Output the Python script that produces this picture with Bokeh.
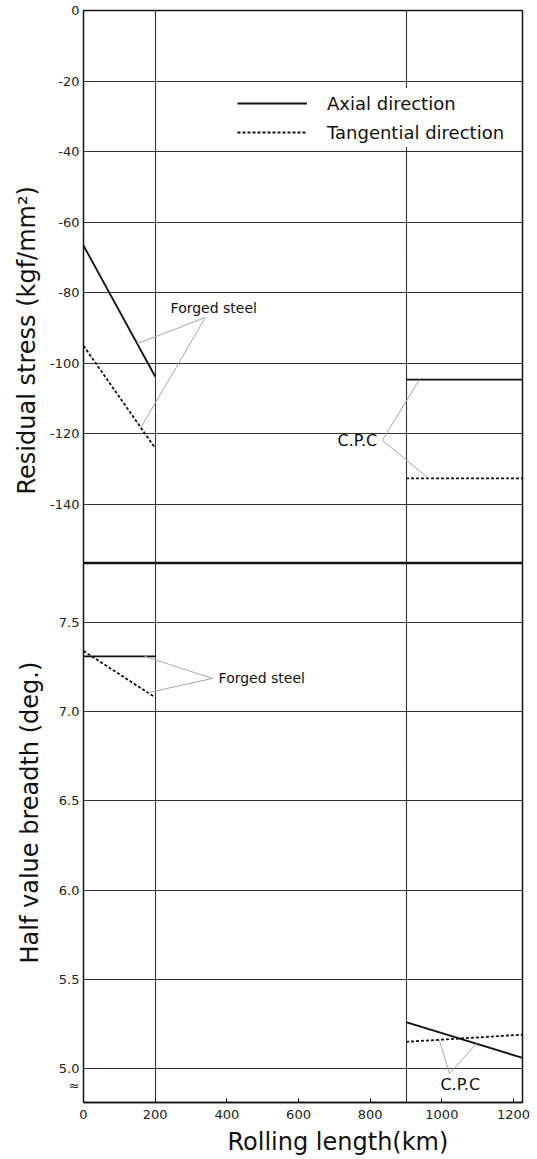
from bokeh.plotting import figure
from bokeh.layouts import column
from bokeh.models import Range1d, FixedTicker, Label, Legend, LegendItem, Title
from bokeh.embed import file_html
from bokeh.resources import INLINE

# ---------------- data ----------------
x_forged = [0, 200]
x_cpc = [900, 1225]

stress_forged_axial = [-66.6, -103.7]
stress_forged_tang = [-95.0, -124.0]
stress_cpc_axial = [-104.6, -104.6]
stress_cpc_tang = [-132.6, -132.6]

hvb_forged_axial = [7.31, 7.31]
hvb_forged_tang = [7.34, 7.08]
hvb_cpc_axial = [5.26, 5.06]
hvb_cpc_tang = [5.15, 5.19]

x_ticks = [0, 200, 400, 600, 800, 1000, 1200]
x_tick_labels = ["0", "200", "400", "600", "800", "1000", "1200"]
stress_ticks = [0, -20, -40, -60, -80, -100, -120, -140]
stress_tick_labels = ["0", "-20", "-40", "-60", "-80", "-100", "-120", "-140"]
hvb_ticks = [5.0, 5.5, 6.0, 6.5, 7.0, 7.5]
hvb_tick_labels = ["5.0", "5.5", "6.0", "6.5", "7.0", "7.5"]
axis_break_at = 4.905
x_grid_marks = [200, 900]

# annotation leader lines (label anchor -> curve)
top_forged_leader_x = [[340, 150], [340, 160]]
top_forged_leader_y = [[-87.0, -94.4], [-87.0, -118.2]]
top_cpc_leader_x = [[834, 937], [834, 963]]
top_cpc_leader_y = [[-121.8, -104.6], [-121.8, -132.6]]
bot_forged_leader_x = [[360, 170], [360, 180]]
bot_forged_leader_y = [[7.186, 7.31], [7.186, 7.106]]
bot_cpc_leader_x = [[1021, 993], [1021, 1097]]
bot_cpc_leader_y = [[4.972, 5.159], [4.972, 5.141]]

FONT = "DejaVu Sans"
INK = "#111111"
GRID = "#333333"
LEAD = "#a8a8a8"

x_range = Range1d(0, 1225)

def style(p, yticks, ylabels, label_ticks=None, label_texts=None):
    p.outline_line_color = INK
    p.outline_line_width = 1.5
    lt = yticks + (label_ticks or [])
    ll = ylabels + (label_texts or [])
    p.yaxis.ticker = FixedTicker(ticks=lt)
    p.yaxis.major_label_overrides = {t: l for t, l in zip(lt, ll)}
    p.yaxis.major_tick_in = 0
    p.yaxis.major_tick_out = 0
    p.yaxis.minor_tick_line_color = None
    p.yaxis.axis_line_color = None
    p.yaxis.major_label_standoff = 4
    p.yaxis.major_label_text_font = FONT
    p.yaxis.major_label_text_font_size = "13px"
    p.yaxis.major_label_text_color = "#222222"
    p.ygrid.ticker = FixedTicker(ticks=yticks)
    p.ygrid.grid_line_color = GRID
    p.ygrid.grid_line_width = 1.1
    p.xgrid.ticker = FixedTicker(ticks=x_grid_marks)
    p.xgrid.grid_line_color = GRID
    p.xgrid.grid_line_width = 1.1

def side_title(text, offset, standoff):
    return Title(text=text, align="left", offset=offset, text_font=FONT,
                 text_font_size="24px", text_font_style="normal", text_color=INK,
                 standoff=standoff)

# ---------------- top panel: residual stress ----------------
p1 = figure(width=530, height=563, x_range=x_range, y_range=Range1d(-156.7, 0),
            output_backend="svg", toolbar_location=None,
            min_border_left=83, min_border_right=8, min_border_top=10, min_border_bottom=0)
style(p1, stress_ticks, stress_tick_labels)
p1.xaxis.visible = False

ra = p1.line(x_forged, stress_forged_axial, line_color=INK, line_width=1.8)
rt = p1.line(x_forged, stress_forged_tang, line_color=INK, line_width=1.8, line_dash="3 2")
p1.line(x_cpc, stress_cpc_axial, line_color=INK, line_width=1.8)
p1.line(x_cpc, stress_cpc_tang, line_color=INK, line_width=1.8, line_dash="3 2")
p1.multi_line(top_forged_leader_x, top_forged_leader_y, line_color=LEAD, line_width=1)
p1.multi_line(top_cpc_leader_x, top_cpc_leader_y, line_color=LEAD, line_width=1)

p1.add_layout(Label(x=243, y=-84.4, text="Forged steel", text_font=FONT, text_font_size="14px",
                    text_color=INK, text_align="left", text_baseline="middle"))
p1.add_layout(Label(x=709, y=-121.8, text="C.P.C", text_font=FONT, text_font_size="16px",
                    text_color=INK, text_align="left", text_baseline="middle"))
p1.add_layout(side_title("Residual stress (kgf/mm²)", 69, 12), "left")

legend = Legend(items=[LegendItem(label="Axial direction", renderers=[ra]),
                       LegendItem(label="Tangential direction", renderers=[rt])],
                location=(150, 416), glyph_width=70, glyph_height=22, label_standoff=20,
                label_text_font=FONT, label_text_font_size="18px", label_text_color=INK,
                spacing=7, padding=4, margin=0, border_line_alpha=0,
                background_fill_color="white", background_fill_alpha=1.0)
p1.add_layout(legend)

# ---------------- bottom panel: half value breadth ----------------
p2 = figure(width=530, height=596, x_range=x_range, y_range=Range1d(4.81, 7.83),
            output_backend="svg", toolbar_location=None,
            min_border_left=83, min_border_right=8, min_border_top=0, min_border_bottom=57)
style(p2, hvb_ticks, hvb_tick_labels, [axis_break_at], ["≈"])
p2.xaxis.ticker = FixedTicker(ticks=x_ticks)
p2.xaxis.major_label_overrides = {t: l for t, l in zip(x_ticks, x_tick_labels)}
p2.xaxis.major_tick_in = 4
p2.xaxis.major_tick_out = 0
p2.xaxis.major_tick_line_color = INK
p2.xaxis.minor_tick_line_color = None
p2.xaxis.axis_line_color = INK
p2.xaxis.axis_line_width = 1.5
p2.xaxis.major_label_standoff = 7
p2.xaxis.major_label_text_font = FONT
p2.xaxis.major_label_text_font_size = "13px"
p2.xaxis.major_label_text_color = "#222222"

p2.line(x_forged, hvb_forged_axial, line_color=INK, line_width=1.8)
p2.line(x_forged, hvb_forged_tang, line_color=INK, line_width=1.8, line_dash="3 2")
p2.line(x_cpc, hvb_cpc_axial, line_color=INK, line_width=1.8)
p2.line(x_cpc, hvb_cpc_tang, line_color=INK, line_width=1.8, line_dash="3 2")
p2.multi_line(bot_forged_leader_x, bot_forged_leader_y, line_color=LEAD, line_width=1)
p2.multi_line(bot_cpc_leader_x, bot_cpc_leader_y, line_color=LEAD, line_width=1)

p2.add_layout(Label(x=377, y=7.19, text="Forged steel", text_font=FONT, text_font_size="14px",
                    text_color=INK, text_align="left", text_baseline="middle"))
p2.add_layout(Label(x=996, y=4.91, text="C.P.C", text_font=FONT, text_font_size="16px",
                    text_color=INK, text_align="left", text_baseline="middle"))
p2.add_layout(side_title("Half value breadth (deg.)", 139, 23), "left")
p2.add_layout(side_title("Rolling length(km)", 144, 8), "below")

layout = column(p1, p2)
open("out.html", "w").write(file_html(layout, INLINE))
